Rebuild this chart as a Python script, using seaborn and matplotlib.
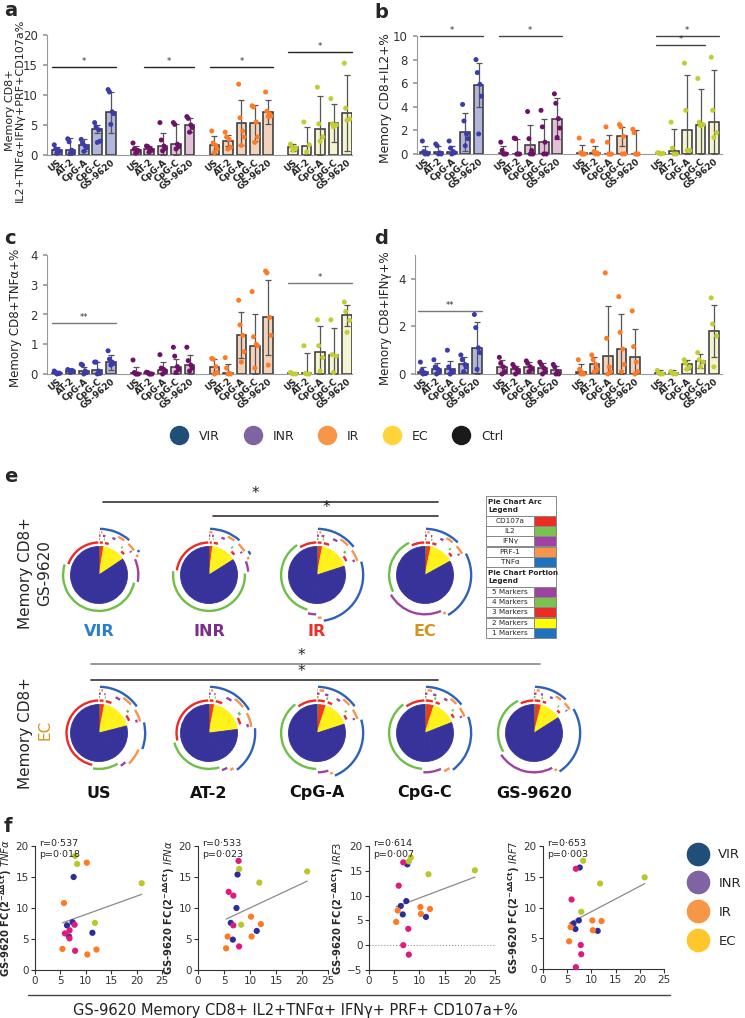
import numpy as np
import pandas as pd
import matplotlib.pyplot as plt
from matplotlib.patches import Arc, Rectangle
from matplotlib.lines import Line2D
import seaborn as sns

sns.set_theme(style="ticks")
plt.rcParams['font.family'] = ['DejaVu Sans']
plt.rcParams['mathtext.default'] = 'regular'

W, H = 745, 1018
fig = plt.figure(figsize=(W / 100, H / 100), dpi=100)


def px_axes(x0, y0, x1, y1):
    return fig.add_axes([x0 / W, 1 - y1 / H, (x1 - x0) / W, (y1 - y0) / H])


# ---------------- data: panels a-d ----------------
conds = ["US", "AT-2", "CpG-A", "CpG-C", "GS-9620"]
groups = ["VIR", "INR", "IR", "EC"]

a_means = [[0.8, 0.9, 1.6, 4.3, 7.1], [0.9, 1.0, 1.5, 1.8, 5.0],
           [1.7, 2.4, 5.4, 5.3, 7.1], [1.3, 1.5, 4.4, 5.3, 7.0]]
a_sd = [[0.6, 1.9, 1.0, 0.7, 3.4], [0.6, 0.5, 2.2, 3.4, 1.1],
        [1.4, 0.9, 3.7, 3.0, 2.0], [0.6, 3.1, 5.4, 3.2, 6.4]]
a_pts = [[[0.3, 1.7, 0.6, 1.0, 0.8], [0.3, 2.7, 0.5, 2.2, 0.8], [0.6, 2.6, 1.2, 2.0, 1.5],
          [2.1, 5.4, 2.3, 4.7, 4.2], [5.1, 10.9, 6.9, 10.5, 7.2]],
         [[0.3, 2.0, 0.7, 1.0, 0.8], [0.5, 1.5, 0.8, 1.4, 1.0], [0.7, 5.4, 1.1, 2.5, 1.5],
          [1.0, 5.4, 1.4, 5.1, 1.8], [3.8, 6.4, 4.6, 6.1, 5.0]],
         [[0.4, 4.0, 1.0, 2.0, 1.6], [1.0, 3.8, 1.3, 3.0, 2.6], [1.6, 11.8, 3.0, 6.2, 4.0],
          [2.1, 8.2, 3.0, 8.0, 5.5], [6.4, 10.5, 6.5, 7.3, 6.8]],
         [[0.8, 1.8, 1.2, 1.3], [0.5, 5.5, 1.7], [2.3, 11.3, 3.0, 5.2],
          [4.7, 9.4, 5.0, 5.2], [5.8, 15.3, 6.0, 7.8]]]
a_sig = [(0, 0, 4, 14.6, "*"), (1, 1, 4, 14.6, "*"), (2, 0, 4, 14.6, "*"), (3, 0, 4, 17.2, "*")]

b_means = [[0.2, 0.2, 0.2, 1.85, 5.85], [0.1, 0.0, 0.75, 1.0, 3.0],
           [0.05, 0.05, 0.0, 1.5, 0.0], [0.05, 0.25, 2.0, 2.5, 2.7]]
b_sd = [[0.45, 0.45, 0.45, 1.6, 1.9], [0.55, 1.3, 1.7, 2.0, 1.75],
        [0.7, 0.65, 1.65, 0.8, 2.0], [0.1, 1.9, 4.7, 3.0, 4.4]]
b_pts = [[[0.0, 1.1, 0.0, 0.2, 0.1], [0.0, 0.85, 0.0, 0.7, 0.1], [0.0, 1.1, 0.1, 0.5, 0.2],
          [0.7, 4.2, 1.3, 2.8, 1.7], [1.7, 8.0, 4.9, 6.9, 5.9]],
         [[0.0, 1.0, 0.0, 0.3, 0.0], [0.0, 1.35, 0.0, 1.3, 0.0], [0.0, 3.6, 0.0, 1.3, 0.3],
          [0.0, 3.7, 0.0, 2.3, 1.0], [1.4, 5.1, 2.2, 4.3, 3.0]],
         [[0.0, 1.35, 0.0, 0.1, 0.0], [0.0, 1.1, 0.0, 0.2, 0.1], [0.0, 2.3, 0.0, 1.0, 0.0],
          [0.0, 2.5, 0.0, 2.3, 1.5], [0.0, 2.1, 0.0, 1.8, 0.0]],
         [[0.0, 0.1, 0.05, 0.1], [0.0, 2.7, 0.0, 0.5], [0.3, 7.7, 0.3, 3.7],
          [2.4, 6.4, 2.5, 2.7], [1.4, 8.2, 1.8, 3.7]]]
b_sig = [(0, 0, 4, 10.0, "*"), (1, 0, 4, 10.0, "*"), (3, 0, 3, 9.2, "*"), (3, 0, 4, 10.0, "*")]

c_means = [[0.05, 0.1, 0.1, 0.15, 0.4], [0.05, 0.02, 0.15, 0.25, 0.3],
           [0.25, 0.05, 1.3, 0.95, 1.9], [0.02, 0.02, 0.75, 0.65, 1.97]]
c_sd = [[0.05, 0.05, 0.15, 0.25, 0.25], [0.2, 0.05, 0.25, 0.25, 0.35],
        [0.25, 0.3, 0.77, 1.05, 1.25], [0.03, 0.7, 0.85, 0.88, 0.35]]
c_pts = [[[0.0, 0.1, 0.02, 0.05, 0.03], [0.05, 0.15, 0.1, 0.12, 0.12], [0.0, 0.33, 0.05, 0.3, 0.1],
          [0.0, 0.4, 0.02, 0.4, 0.1], [0.3, 0.78, 0.35, 0.5, 0.4]],
         [[0.0, 0.47, 0.0, 0.05, 0.0], [0.0, 0.06, 0.0, 0.05, 0.0], [0.0, 0.65, 0.1, 0.2, 0.15],
          [0.05, 0.9, 0.15, 0.6, 0.25], [0.1, 0.9, 0.2, 0.45, 0.3]],
         [[0.0, 0.52, 0.05, 0.5, 0.25], [0.0, 0.55, 0.0, 0.2, 0.02], [0.4, 2.48, 0.75, 1.65, 1.3],
          [0.2, 2.77, 0.95, 1.25, 1.0], [0.3, 3.46, 1.3, 3.4, 1.9]],
         [[0.0, 0.05, 0.0, 0.02], [0.0, 0.95, 0.0, 0.02], [0.1, 1.82, 0.55, 0.95],
          [0.05, 1.82, 0.6, 0.65], [1.4, 2.42, 1.8, 2.1]]]
c_sig = [(0, 0, 4, 1.72, "**"), (3, 0, 4, 3.05, "*")]

d_means = [[0.1, 0.2, 0.2, 0.4, 1.1], [0.3, 0.2, 0.3, 0.25, 0.15],
           [0.1, 0.4, 0.75, 1.05, 0.7], [0.05, 0.05, 0.4, 0.55, 1.8]]
d_sd = [[0.2, 0.25, 0.35, 0.3, 1.1], [0.3, 0.15, 0.2, 0.2, 0.2],
        [0.3, 0.3, 2.1, 1.45, 1.2], [0.1, 0.1, 0.2, 0.3, 1.1]]
d_pts = [[[0.0, 0.5, 0.02, 0.15, 0.05], [0.0, 0.6, 0.1, 0.3, 0.2], [0.0, 1.0, 0.1, 0.3, 0.15],
          [0.1, 0.8, 0.3, 0.6, 0.4], [0.2, 2.5, 0.9, 1.95, 1.1]],
         [[0.0, 0.7, 0.1, 0.45, 0.3], [0.0, 0.4, 0.1, 0.3, 0.2], [0.1, 0.55, 0.2, 0.45, 0.3],
          [0.0, 0.5, 0.1, 0.4, 0.25], [0.0, 0.4, 0.0, 0.3, 0.1]],
         [[0.0, 0.6, 0.0, 0.2, 0.05], [0.1, 0.8, 0.2, 0.6, 0.4], [0.0, 4.25, 0.1, 1.5, 0.3],
          [0.1, 3.25, 0.4, 1.75, 1.05], [0.0, 2.65, 0.1, 1.15, 0.5]],
         [[0.0, 0.15, 0.0, 0.05], [0.0, 0.1, 0.0, 0.05], [0.2, 0.6, 0.3, 0.45],
          [0.3, 0.9, 0.5, 0.6], [0.3, 3.2, 1.6, 2.1]]]
d_sig = [(0, 0, 4, 2.66, "**")]

bar_fill = {"VIR": "#aab0e2", "INR": "#eab9dc", "IR": "#fdd0b1", "EC": "#fbf9cc"}
dot_col = {"VIR": "#3b3bab", "INR": "#6e1267", "IR": "#ff7a26", "EC": "#c2cc33"}

GAP = 5.85
OFFS = [0.0, -0.2, 0.2, -0.1, 0.1]


def bar_panel(rect, means, sds, pts, sig, ylim, yticks, ylabel, xlim, sigcol, lab_x, lab_y, lab_fs):
    ax = px_axes(*rect)
    rows, prow = [], []
    for g, grp in enumerate(groups):
        for i, c in enumerate(conds):
            pos = g * GAP + i
            rows.append(dict(group=grp, cond=c, pos=pos, mean=means[g][i], sd=sds[g][i]))
            for k, v in enumerate(pts[g][i]):
                prow.append(dict(group=grp, x=pos + OFFS[k % 5], y=v))
    df = pd.DataFrame(rows)
    pdf = pd.DataFrame(prow)
    sns.barplot(data=df, x='pos', y='mean', hue='group', palette=bar_fill, native_scale=True,
                width=0.72, errorbar=None, edgecolor='#333333', linewidth=1.1, legend=False, ax=ax)
    lower = np.minimum(df['sd'], df['mean'])
    ax.errorbar(df['pos'], df['mean'], yerr=[lower, df['sd']], fmt='none', ecolor='#555555',
                elinewidth=0.9, capsize=2.2, capthick=0.9, zorder=3)
    sns.scatterplot(data=pdf, x='x', y='y', hue='group', palette=dot_col, s=13, edgecolor='none',
                    legend=False, ax=ax, zorder=4, clip_on=False)
    for g, c0, c1, y, lab in sig:
        x0, x1 = g * GAP + c0 - 0.35, g * GAP + c1 + 0.35
        ax.plot([x0, x1], [y, y], color=sigcol, lw=1.0, clip_on=False)
        ax.text((x0 + x1) / 2, y + (ylim[1] * 0.01), lab, ha='center', va='bottom', fontsize=6,
                color='#333333')
    ax.set_xlim(*xlim)
    ax.set_ylim(*ylim)
    ax.set_yticks(yticks)
    ax.set_xticks(df['pos'])
    ax.set_xticklabels(conds * 4, rotation=40, ha='right', rotation_mode='anchor',
                       fontsize=6.3, fontweight='bold', color='#222222')
    ax.tick_params(axis='x', length=0, pad=2)
    ax.tick_params(axis='y', labelsize=8.5, colors='#999999', labelcolor='#333333', length=3)
    ax.set_xlabel('')
    ax.set_ylabel(ylabel, fontsize=lab_fs, color='#222222', linespacing=1.05)
    ax.yaxis.set_label_coords((lab_x - rect[0]) / (rect[2] - rect[0]),
                              (rect[3] - lab_y) / (rect[3] - rect[1]))
    sns.despine(ax=ax)
    for s in ['left', 'bottom']:
        ax.spines[s].set_color('#999999')
        ax.spines[s].set_linewidth(0.8)
    return ax


xl_left = (-0.74, 21.92)
xl_right = (-0.6, 22.15)
bar_panel((47, 35, 352, 155), a_means, a_sd, a_pts, a_sig, (0, 20), [0, 5, 10, 15, 20],
          "Memory CD8+\nIL2+TNFα+IFNγ+PRF+CD107a%", xl_left, '#222222', 25, 110, 8.0)
bar_panel((417, 36, 722, 154), b_means, b_sd, b_pts, b_sig, (0, 10), [0, 2, 4, 6, 8, 10],
          "Memory CD8+IL2+%", xl_right, '#444444', 392, 98, 8.8)
bar_panel((47, 255, 352, 374), c_means, c_sd, c_pts, c_sig, (0, 4), [0, 1, 2, 3, 4],
          "Memory CD8+TNFα+%", xl_left, '#777777', 22, 318, 8.6)
bar_panel((415, 255, 722, 374), d_means, d_sd, d_pts, d_sig, (0, 5), [0, 2, 4],
          "Memory CD8+IFNγ+%", xl_right, '#777777', 392, 318, 8.6)

# legend row under a-d
leg_labels = ["VIR", "INR", "IR", "EC", "Ctrl"]
leg_colors = ["#1f4e79", "#8064a2", "#f79646", "#ffd43b", "#1a1a1a"]
handles = [Line2D([], [], marker='o', ls='', markersize=13, markerfacecolor=c, markeredgecolor=c)
           for c in leg_colors]
fig.legend(handles, leg_labels, ncol=5, loc='center', bbox_to_anchor=(335 / W, 1 - 436 / H),
           frameon=False, fontsize=9, handletextpad=0.6, columnspacing=1.6)

# ---------------- data: panel e ----------------
markers = ["C", "I", "G", "P", "T"]          # CD107a, IL2, IFNγ, PRF-1, TNFα
arc_color = {"C": "#ee2a24", "I": "#6dbf45", "G": "#a043a0", "P": "#f7944a", "T": "#2d62b8"}
ring = {"C": 1.14, "I": 1.26, "G": 1.38, "P": 1.50, "T": 1.62}
level_color = {5: "#a040a0", 4: "#6dbf45", 3: "#ee3a24", 2: "#fff21a", 1: "#37339a"}

four_combos = ["CIGT", "CGPT"]
four_w = [0.5, 0.5]
three_combos = ["CPT", "CGT", "IGT"]
three_w = [0.5, 0.3, 0.2]
two_combos = ["CT", "GT", "PT", "IT", "CP", "GP"]
two_w = [0.2, 0.15, 0.25, 0.1, 0.2, 0.1]
single_order = ["T", "P", "G", "I", "C"]

# portions: 5, 4, 3, 2 markers (%); singles in single_order (%)
row1_names = ["VIR", "INR", "IR", "EC"]
row1_colors = ["#2a7fc9", "#7b2d8e", "#e8312b", "#d4951c"]
row1_portions = [[0.2, 0.4, 2.0, 13.0], [0.2, 0.3, 1.5, 14.0], [0.3, 0.5, 2.2, 17.0], [0.3, 0.5, 2.5, 13.7]]
row1_singles = [[1.5, 1.0, 10, 52, 19.9], [2, 1, 5, 53, 23], [28, 2, 4, 37, 9], [25, 1, 24, 26, 7]]

row2_names = ["US", "AT-2", "CpG-A", "CpG-C", "GS-9620"]
row2_portions = [[0.2, 0.5, 2.3, 18], [0.2, 0.5, 2.3, 20], [0.3, 0.7, 4, 15], [0.3, 0.7, 4, 14], [0.3, 0.7, 3, 12]]
row2_singles = [[10, 7, 3, 12, 47], [17, 2, 3, 26, 29], [24, 1, 5, 40, 10], [21, 3, 8, 39, 10], [25, 1, 24, 27, 7]]

PIE_R = 28.5
HALF = 50


def draw_arc(ax, m, a0, a1):
    if a1 - a0 > 4:
        a0, a1 = a0 + 1.2, a1 - 1.2
    r = ring[m]
    ax.add_patch(Arc((0, 0), 2 * r, 2 * r, theta1=90 - a1, theta2=90 - a0,
                     color=arc_color[m], lw=1.7))


def pie_panel(cx, cy, portions, singles):
    ax = px_axes(cx - HALF, cy - HALF, cx + HALF, cy + HALF)
    fracs, levels, marks = [portions[0]], [5], ["CIGPT"]
    for lst, ws, lev, tot in [(four_combos, four_w, 4, portions[1]),
                              (three_combos, three_w, 3, portions[2]),
                              (two_combos, two_w, 2, portions[3])]:
        for cmb, w in zip(lst, ws):
            fracs.append(tot * w)
            levels.append(lev)
            marks.append(cmb)
    for m, v in zip(single_order, singles):
        fracs.append(v)
        levels.append(1)
        marks.append(m)
    wedges, _ = ax.pie(fracs, colors=[level_color[l] for l in levels], startangle=90,
                       counterclock=False, radius=1)
    for wd in wedges:
        wd.set_edgecolor(wd.get_facecolor())
        wd.set_linewidth(0.6)
    edges = np.cumsum([0] + fracs) / sum(fracs) * 360
    for m in markers:
        start = None
        for k, mk in enumerate(marks):
            if m in mk:
                if start is None:
                    start = edges[k]
                end = edges[k + 1]
            elif start is not None:
                draw_arc(ax, m, start, end)
                start = None
        if start is not None:
            draw_arc(ax, m, start, end)
    lim = HALF / PIE_R
    ax.set_xlim(-lim, lim)
    ax.set_ylim(-lim, lim)
    ax.set_aspect('equal')
    ax.axis('off')
    return ax


cond_font = ['Liberation Sans Narrow', 'DejaVu Sans']
row1_x = [99, 209, 317, 425]
for k in range(4):
    pie_panel(row1_x[k], 575, row1_portions[k], row1_singles[k])
    fig.text(row1_x[k] / W, 1 - 632 / H, row1_names[k], ha='center', va='center', fontsize=11.5,
             fontweight='bold', color=row1_colors[k], family=cond_font)

row2_x = [99, 209, 317, 425, 534]
for k in range(5):
    pie_panel(row2_x[k], 733, row2_portions[k], row2_singles[k])
    fig.text(row2_x[k] / W, 1 - 793 / H, row2_names[k], ha='center', va='center', fontsize=11.5,
             fontweight='bold', color='#111111', family=cond_font)

# significance bars in e (figure pixel space)
ov = px_axes(0, 0, W, H)
ov.set_xlim(0, W)
ov.set_ylim(H, 0)
ov.axis('off')
for x0, x1, y, col, sx in [(103, 438, 502, '#333333', 255), (213, 438, 516, '#333333', 326),
                           (91, 540, 664, '#888888', 301), (91, 438, 680, '#333333', 301)]:
    ov.plot([x0, x1], [y, y], color=col, lw=1.2)
    ov.text(sx, y - 1, "*", ha='center', va='bottom', fontsize=11, color='#222222')

fig.text(26 / W, 1 - 573 / H, "Memory CD8+", rotation=90, ha='center', va='center', fontsize=11)
fig.text(45 / W, 1 - 573 / H, "GS-9620", rotation=90, ha='center', va='center', fontsize=11)
fig.text(26 / W, 1 - 733 / H, "Memory CD8+", rotation=90, ha='center', va='center', fontsize=11)
fig.text(45 / W, 1 - 730 / H, "EC", rotation=90, ha='center', va='center', fontsize=11,
         color='#d4951c')

# legend table for e
arc_leg_labels = ["CD107a", "IL2", "IFNγ", "PRF-1", "TNFα"]
arc_leg_colors = ["#ee2a24", "#7cc050", "#a043a0", "#f7944a", "#1f72c0"]
por_leg_labels = ["5 Markers", "4 Markers", "3 Markers", "2 Markers", "1 Markers"]
por_leg_colors = ["#a043a0", "#7cc050", "#ee2a24", "#ffff00", "#1f72c0"]

tx0, tx1, tcol = 486, 556, 534
tab_font = ['Liberation Sans Narrow', 'DejaVu Sans']
y = 496
for header, labs, cols in [("Pie Chart Arc\nLegend", arc_leg_labels, arc_leg_colors),
                           ("Pie Chart Portion\nLegend", por_leg_labels, por_leg_colors)]:
    ov.add_patch(Rectangle((tx0, y), tx1 - tx0, 20, fill=False, ec='#888888', lw=0.7))
    ov.text(tx0 + 2, y + 10, header, ha='left', va='center', fontsize=5.2, fontweight='bold',
            family=tab_font, linespacing=1.5)
    y += 20
    for lab, col in zip(labs, cols):
        ov.add_patch(Rectangle((tx0, y), tcol - tx0, 10, fill=False, ec='#888888', lw=0.7))
        ov.add_patch(Rectangle((tcol, y), tx1 - tcol, 10, fc=col, ec='#888888', lw=0.7))
        ov.text((tx0 + tcol) / 2, y + 5, lab, ha='center', va='center', fontsize=5.2,
                family=tab_font)
        y += 10.2

# ---------------- data: panel f ----------------
f_group = ["VIR"] * 5 + ["INR"] * 5 + ["IR"] * 5 + ["EC"] * 4
f_x = [7.6, 6.3, 7.4, 6.7, 11.3,
       5.9, 6.8, 7.8, 6.8, 7.9,
       5.7, 5.4, 10.2, 10.3, 12.1,
       8.3, 7.9, 21.0, 11.8]
tnfa_y = [15.0, 7.2, 7.7, 5.4, 6.0,
          5.9, 6.4, 7.3, 5.1, 3.1,
          10.8, 3.4, 17.3, 2.5, 3.3,
          17.1, 18.4, 14.0, 7.6]
ifna_y = [15.4, 7.6, 10.0, 4.9, 6.3,
          12.6, 12.0, 17.6, 7.2, 3.8,
          5.4, 3.5, 8.6, 5.4, 7.4,
          7.3, 16.3, 15.9, 14.1]
irf3_y = [16.3, 7.9, 8.9, 6.2, 5.7,
          12.0, 16.7, 3.3, 0.0, -1.9,
          7.0, 4.7, 7.7, 6.3, 7.3,
          17.7, 16.9, 15.1, 14.3]
irf7_y = [16.5, 7.4, 7.9, 6.5, 6.2,
          11.3, 16.3, 3.9, 0.3, 2.4,
          6.8, 4.5, 7.9, 6.3, 7.8,
          17.6, 9.3, 14.9, 13.9]
f_genes = [r"TNF\alpha", r"IFN\alpha", "IRF3", "IRF7"]
f_stats = [("r=0·537", "p=0·018"), ("r=0·533", "p=0·023"), ("r=0·614", "p=0·007"), ("r=0·653", "p=0·003")]
f_ys = [tnfa_y, ifna_y, irf3_y, irf7_y]
f_rects = [(35, 846, 162, 970), (198, 846, 328, 970), (369, 846, 495, 970), (543, 846, 664, 969)]
f_ylims = [(0, 20), (0, 20), (-5, 20), (0, 20)]
sc_col = {"VIR": "#2c2c9c", "INR": "#e0197d", "IR": "#ff7a22", "EC": "#b9c72b"}

for k in range(4):
    ax = px_axes(*f_rects[k])
    df = pd.DataFrame(dict(x=f_x, y=f_ys[k], group=f_group))
    sns.regplot(data=df, x='x', y='y', scatter=False, ci=None, truncate=True, ax=ax,
                line_kws=dict(color='#8a8a8a', lw=0.9))
    sns.scatterplot(data=df, x='x', y='y', hue='group', palette=sc_col, s=20, edgecolor='none',
                    legend=False, ax=ax, zorder=3, clip_on=False)
    if f_ylims[k][0] < 0:
        ax.axhline(0, color='#999999', lw=0.8, ls=':')
    ax.set_xlim(0, 25)
    ax.set_ylim(*f_ylims[k])
    ax.set_xticks([0, 5, 10, 15, 20, 25])
    ax.set_yticks(np.arange(f_ylims[k][0], 21, 5))
    ax.tick_params(labelsize=7.5, length=3, width=0.8, pad=1.5, colors='#333333')
    ax.set_xlabel('')
    ax.set_ylabel(r"GS-9620 FC(2$^{-\Delta\Delta Ct}$) $\it{" + f_genes[k] + "}$",
                  fontsize=7.2, fontweight='bold', labelpad=1)
    ax.text(0.03, 1.02, f_stats[k][0], transform=ax.transAxes, fontsize=6.8, va='center')
    ax.text(0.03, 0.93, f_stats[k][1], transform=ax.transAxes, fontsize=6.8, va='center')
    sns.despine(ax=ax)
    for s in ['left', 'bottom']:
        ax.spines[s].set_color('#333333')
        ax.spines[s].set_linewidth(0.8)

ov.plot([28, 670], [995, 995], color='#444444', lw=1.0)
fig.text(295 / W, 1 - 1010 / H, "GS-9620 Memory CD8+ IL2+TNFα+ IFNγ+ PRF+ CD107a+%",
         ha='center', va='center', fontsize=10.5, color='#222222')

f_leg_labels = ["VIR", "INR", "IR", "EC"]
f_leg_colors = ["#1f4e79", "#8064a2", "#f79646", "#ffc72c"]
fh = [Line2D([], [], marker='o', ls='', markersize=16, markerfacecolor=c, markeredgecolor=c)
      for c in f_leg_colors]
fig.legend(fh, f_leg_labels, loc='upper left', bbox_to_anchor=(680 / W, 1 - 843 / H),
           frameon=False, fontsize=9.5, labelspacing=1.2, handletextpad=0.5, borderaxespad=0)

# panel letters
for lab, x, y in [("a", 4, 10), ("b", 374, 13), ("c", 4, 238), ("d", 374, 238),
                  ("e", 4, 476), ("f", 4, 826)]:
    fig.text(x / W, 1 - y / H, lab, fontsize=14, fontweight='bold', va='center', ha='left')

fig.savefig("out.png", dpi=100)
